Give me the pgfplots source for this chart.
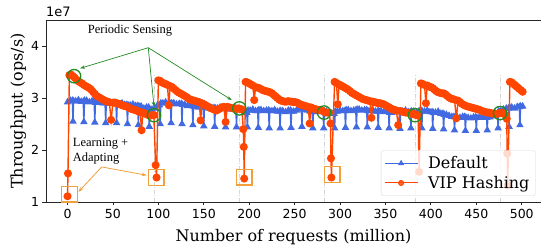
\documentclass[border=0pt]{standalone}
\usepackage{fontspec}
\setmainfont{DejaVu Serif}
\newfontfamily\tickfont{DejaVu Sans}
\newfontfamily\annfont{Liberation Serif}
\usepackage{pgfplots}
\pgfplotsset{compat=1.18}
\usetikzlibrary{arrows.meta}
\definecolor{myblue}{RGB}{65,105,225}
\definecolor{myorange}{RGB}{255,69,0}
\definecolor{mygreen}{RGB}{34,139,34}
\definecolor{boxorange}{RGB}{240,160,60}
\definecolor{vgray}{RGB}{212,212,212}
\tikzset{gcirc/.style={mygreen, line width=1.3pt},
  obox/.style={boxorange, line width=1.4pt},
  vline/.style={vgray, line width=0.7pt, dash pattern=on 4pt off 1.5pt on 1pt off 1.5pt}}
\begin{document}
\begin{tikzpicture}
\useasboundingbox (-46pt,-47pt) rectangle (496pt,202pt);
\begin{axis}[
  at={(0pt,0pt)}, anchor=south west,
  scale only axis, width=495pt, height=182pt,
  xmin=-23.7, xmax=521.2, ymin=1, ymax=4.5,
  axis x line=box, axis y line=left,
  x axis line style={-}, y axis line style={-},
  axis line style={black!85, line width=0.8pt},
  xtick pos=bottom, ytick pos=left,
  tick align=outside, major tick length=3.5pt,
  tick style={black!85, line width=0.8pt},
  xtick={0,50,...,500}, ytick={1,2,3,4},
  /pgf/number format/assume math mode=true,
  ticklabel style={font=\tickfont\fontsize{12.5}{14}\selectfont},
  xlabel={Number of requests (million)},
  ylabel={Throughput (ops/s)},
  xlabel style={font=\fontsize{16}{19}\selectfont, at={(rel axis cs:0.5,-0.218)}, anchor=base},
  ylabel style={font=\fontsize{16}{19}\selectfont, at={(rel axis cs:-0.0471,0.5)}, anchor=base},
  clip mode=individual,
  legend style={at={(0.9893,0.033)}, anchor=south east,
    font=\fontsize{16}{19}\selectfont, draw=black!15, fill=white,
    fill opacity=0.8, text opacity=1, draw opacity=1, rounded corners=2.5pt,
    inner xsep=3pt, inner ysep=5pt, row sep=4pt,
    nodes={inner xsep=3pt, inner ysep=1pt},
    /tikz/every odd column/.append style={column sep=7pt}},
  legend cell align=left,
  legend image code/.code={\draw[mark repeat=2,mark phase=2,mark size=2.5pt,line width=1pt] plot coordinates {(0cm,0cm) (0.58cm,0cm) (1.16cm,0cm)};},
]
% vertical dash-dot guide lines
\draw[vline] (axis cs:95.6,1) -- (axis cs:95.6,3.45);
\draw[vline] (axis cs:189,1) -- (axis cs:189,3.45);
\draw[vline] (axis cs:282.7,1) -- (axis cs:282.7,3.45);
\draw[vline] (axis cs:382.5,1) -- (axis cs:382.5,3.45);
\draw[vline] (axis cs:476.5,1) -- (axis cs:476.5,3.45);

\addplot[myblue, line width=1.4pt, mark=triangle*, mark size=3pt, mark options={solid, fill=myblue, draw=myblue}] coordinates {
(0,2.92)(3,2.95)(5.3,2.95)(6,2.55)(6.7,2.94)(9,2.94)
(12,2.96)(15,2.93)(17.3,2.93)(18,2.54)(18.7,2.95)(21,2.95)
(24,2.92)(27,2.94)(29.3,2.94)(30,2.53)(30.7,2.91)(33,2.91)
(36,2.93)(39,2.90)(41.3,2.90)(42,2.52)(42.7,2.92)(45,2.92)
(48,2.89)(51,2.91)(53.3,2.91)(54,2.52)(54.7,2.88)(57,2.88)
(60,2.90)(63,2.87)(65.3,2.87)(66,2.50)(66.7,2.86)(69,2.86)
(72,2.88)(75,2.85)(77.3,2.85)(78,2.48)(78.7,2.84)(81,2.84)
(84,2.80)(87,2.82)(89.3,2.82)(90,2.45)(90.7,2.78)(93,2.78)
(96,2.80)(99,2.86)(101.3,2.86)(102,2.50)(102.7,2.90)(105,2.90)
(108,2.92)(111,2.89)(113.3,2.89)(114,2.52)(114.7,2.90)(117,2.90)
(120,2.88)(123,2.89)(125.3,2.89)(126,2.50)(126.7,2.87)(129,2.87)
(132,2.85)(135,2.86)(137.3,2.86)(138,2.48)(138.7,2.84)(141,2.84)
(144,2.82)(147,2.83)(149.3,2.83)(150,2.46)(150.7,2.82)(153,2.82)
(156,2.80)(159,2.81)(161.3,2.81)(162,2.45)(162.7,2.80)(165,2.80)
(168,2.82)(171,2.79)(173.3,2.79)(174,2.44)(174.7,2.80)(177,2.80)
(180,2.78)(183,2.80)(185.3,2.80)(186,2.44)(186.7,2.79)(189,2.79)
(192,2.77)(195,2.72)(197.3,2.72)(198,2.44)(198.7,2.76)(201,2.76)
(204,2.78)(207,2.75)(209.3,2.75)(210,2.43)(210.7,2.77)(213,2.77)
(216,2.75)(219,2.76)(221.3,2.76)(222,2.42)(222.7,2.75)(225,2.75)
(228,2.77)(231,2.74)(233.3,2.74)(234,2.42)(234.7,2.75)(237,2.75)
(240,2.73)(243,2.76)(245.3,2.76)(246,2.43)(246.7,2.74)(249,2.74)
(252,2.76)(255,2.80)(257.3,2.80)(258,2.45)(258.7,2.78)(261,2.78)
(264,2.76)(267,2.74)(269.3,2.74)(270,2.42)(270.7,2.73)(273,2.73)
(276,2.75)(279,2.73)(281.3,2.73)(282,2.42)(282.7,2.74)(285,2.74)
(288,2.72)(291,2.70)(293.3,2.70)(294,2.42)(294.7,2.74)(297,2.74)
(300,2.76)(303,2.75)(305.3,2.75)(306,2.43)(306.7,2.77)(309,2.77)
(312,2.75)(315,2.76)(317.3,2.76)(318,2.44)(318.7,2.78)(321,2.78)
(324,2.76)(327,2.77)(329.3,2.77)(330,2.44)(330.7,2.75)(333,2.75)
(336,2.77)(339,2.74)(341.3,2.74)(342,2.43)(342.7,2.75)(345,2.75)
(348,2.73)(351,2.74)(353.3,2.74)(354,2.42)(354.7,2.72)(357,2.72)
(360,2.74)(363,2.73)(365.3,2.73)(366,2.41)(366.7,2.74)(369,2.74)
(372,2.76)(375,2.73)(377.3,2.73)(378,2.42)(378.7,2.74)(381,2.74)
(384,2.72)(387,2.75)(389.3,2.75)(390,2.42)(390.7,2.74)(393,2.74)
(396,2.76)(399,2.73)(401.3,2.73)(402,2.41)(402.7,2.72)(405,2.72)
(408,2.74)(411,2.70)(413.3,2.70)(414,2.40)(414.7,2.68)(417,2.68)
(420,2.66)(423,2.64)(425.3,2.64)(426,2.38)(426.7,2.63)(429,2.63)
(432,2.62)(435,2.64)(437.3,2.64)(438,2.37)(438.7,2.62)(441,2.62)
(444,2.61)(447,2.63)(449.3,2.63)(450,2.37)(450.7,2.62)(453,2.62)
(456,2.64)(459,2.62)(461.3,2.62)(462,2.38)(462.7,2.63)(465,2.63)
(468,2.65)(471,2.70)(473.3,2.70)(474,2.42)(474.7,2.75)(477,2.75)
(480,2.78)(483,2.80)(485.3,2.80)(486,2.45)(486.7,2.82)(489,2.82)
(492,2.80)(495,2.83)(497.3,2.83)(498,2.48)(498.7,2.84)(501,2.84)
};
\addlegendentry{Default}

\addplot[myorange, line width=1.4pt, mark=*, mark size=3.3pt, mark options={solid, fill=myorange, draw=myorange}] coordinates {
(0,1.11)(0.5,1.55)(2,3.44)(4,3.45)(6,3.42)(8,3.39)(10,3.35)(12,3.32)(14,3.30)(16,3.28)(18,3.25)(20,3.23)(22,3.21)(24,3.19)(26,3.16)(28,3.12)(30,3.08)(32,3.04)(34,3.02)(36,3.00)(38,2.98)(40,2.96)(42,2.94)(44,2.93)(46,2.92)(48,2.58)(50,2.91)(52,2.91)(54,2.90)(56,2.89)(58,2.88)(60,2.86)(62,2.85)(64,2.84)(66,2.83)(68,2.81)(70,2.79)(72,2.78)(74,2.77)(76,2.76)(78,2.74)(80,2.73)(81.5,2.38)(83,2.72)(85,2.70)(87,2.69)(89,2.67)(91,2.66)(93,2.67)(95,2.67)(97,1.71)(98,1.47)(100,3.34)
(102,3.33)(104,3.30)(106,3.28)(108,3.27)(110,3.25)(111.5,2.86)(113,3.23)(115,3.21)(117,3.18)(119,3.15)(121,3.12)(123,3.10)(125,3.08)(127,3.06)(129,3.04)(131,3.02)(133,2.99)(135,2.97)(137,2.96)(139,2.95)(141,2.94)(143,2.93)(145,2.92)(146.5,2.57)(148,2.90)(150,2.88)(152,2.86)(154,2.84)(156,2.82)(158,2.80)(160,2.79)(162,2.77)(164,2.76)(166,2.78)(168,2.80)(170,2.82)(172,2.83)(174,2.54)(176,2.83)(178,2.82)(180,2.81)(182,2.80)(184,2.80)(186,2.79)(188,2.80)(190,2.79)(192,2.78)(193.5,2.40)(194,2.06)(194.5,1.45)(196,3.31)
(198,3.30)(200,3.28)(202,3.26)(204,3.24)(205.5,2.96)(207,3.21)(209,3.20)(211,3.19)(213,3.17)(215,3.15)(217,3.14)(219,3.13)(221,3.12)(223,3.11)(225,3.09)(227,3.06)(229,3.03)(231,3.00)(233,2.97)(235,2.95)(237,2.94)(239,2.93)(241,2.93)(243,2.94)(245,2.93)(247,2.93)(249,2.92)(251,2.92)(253,2.91)(255,2.89)(257,2.87)(259,2.86)(261,2.85)(263,2.84)(265,2.83)(266.5,2.51)(268,2.82)(270,2.80)(272,2.79)(274,2.78)(276,2.77)(278,2.77)(280,2.76)(282,2.74)(284,2.72)(286,2.72)(288,2.72)(289.5,2.51)(290,1.84)(290.5,1.47)(294,3.31)
(296,3.29)(297.5,2.88)(299,3.26)(301,3.24)(303,3.22)(305,3.20)(307,3.18)(309,3.16)(311,3.13)(313,3.10)(315,3.08)(317,3.06)(319,3.04)(321,3.02)(323,3.00)(325,2.98)(327,2.97)(329,2.96)(331,2.95)(333,2.94)(334.5,2.62)(336,2.93)(338,2.92)(340,2.91)(342,2.90)(344,2.90)(346,2.89)(348,2.88)(350,2.86)(352,2.84)(354,2.82)(356,2.80)(358,2.78)(360,2.77)(362,2.76)(364,2.48)(366,2.75)(368,2.74)(370,2.73)(372,2.72)(374,2.72)(376,2.71)(378,2.70)(380,2.70)(382,2.68)(384,2.68)(386,2.66)(387,1.58)(389,3.28)
(391,3.27)(393,3.25)(394.5,2.90)(396,3.24)(398,3.22)(400,3.21)(402,3.19)(404,3.16)(406,3.13)(408,3.11)(410,3.10)(412,3.09)(414,3.09)(416,3.07)(418,3.04)(420,3.01)(422,2.99)(424,2.98)(426,2.97)(428,2.61)(430,2.95)(432,2.92)(434,2.89)(436,2.87)(438,2.85)(440,2.84)(442,2.83)(444,2.82)(446,2.81)(448,2.80)(450,2.79)(452,2.78)(454,2.77)(456,2.75)(458,2.74)(460,2.73)(462,2.72)(464,2.72)(466,2.71)(468,2.70)(470,2.70)(472,2.69)(474,2.70)(476,2.71)(478,2.72)(480,2.70)(482,2.67)(483.5,2.60)(484,1.93)(484.5,1.32)(487,3.31)
(489,3.30)(491,3.27)(493,3.24)(495,3.21)(497,3.18)(499,3.15)(501,3.12)
};
\addlegendentry{VIP Hashing}

% green circles
\draw[gcirc] (axis cs:7.2,3.42) circle[radius=6.7pt];
\draw[gcirc] (axis cs:95.2,2.67) circle[radius=6.7pt];
\draw[gcirc] (axis cs:189.1,2.80) circle[radius=6.7pt];
\draw[gcirc] (axis cs:282.4,2.72) circle[radius=6.7pt];
\draw[gcirc] (axis cs:382.5,2.67) circle[radius=6.7pt];
\draw[gcirc] (axis cs:476.1,2.71) circle[radius=6.7pt];
% green arrows
\draw[mygreen, line width=0.7pt, -{Stealth[length=5pt,width=3.5pt]}] (axis cs:88.9,3.967) -- (axis cs:13.8,3.57);
\draw[mygreen, line width=0.7pt, -{Stealth[length=5pt,width=3.5pt]}] (axis cs:88.9,3.967) -- (axis cs:95.2,2.83);
\draw[mygreen, line width=0.7pt, -{Stealth[length=5pt,width=3.5pt]}] (axis cs:88.9,3.967) -- (axis cs:180.8,2.96);
\node[font=\annfont\fontsize{12.5}{14.5}\selectfont, inner sep=0pt] at (axis cs:68.8,4.295) {Periodic Sensing};

% orange boxes
\draw[obox] ([shift={(-7.8pt,-7.8pt)}]axis cs:2.2,1.15) rectangle ([shift={(7.8pt,7.8pt)}]axis cs:2.2,1.15);
\draw[obox] ([shift={(-7.8pt,-7.8pt)}]axis cs:97.5,1.47) rectangle ([shift={(7.8pt,7.8pt)}]axis cs:97.5,1.47);
\draw[obox] ([shift={(-7.8pt,-7.8pt)}]axis cs:194.6,1.48) rectangle ([shift={(7.8pt,7.8pt)}]axis cs:194.6,1.48);
\draw[obox] ([shift={(-7.8pt,-7.8pt)}]axis cs:291.5,1.53) rectangle ([shift={(7.8pt,7.8pt)}]axis cs:291.5,1.53);
\draw[boxorange, line width=0.8pt, -{Stealth[length=5pt,width=3.5pt]}] (axis cs:37.6,1.674) -- (axis cs:11.9,1.193);
\draw[boxorange, line width=0.8pt, -{Stealth[length=5pt,width=3.5pt]}] (axis cs:37.6,1.674) -- (axis cs:87.2,1.514);
\node[font=\annfont\fontsize{12.5}{14.5}\selectfont, anchor=north west, align=left, inner sep=0pt] at (axis cs:5.7,2.23) {Learning +\\Adapting};

\node[font=\tickfont\fontsize{13}{15}\selectfont, anchor=base west, inner sep=0pt] at ([yshift=3.5pt]rel axis cs:0,1) {1e7};
\end{axis}
\end{tikzpicture}
\end{document}
